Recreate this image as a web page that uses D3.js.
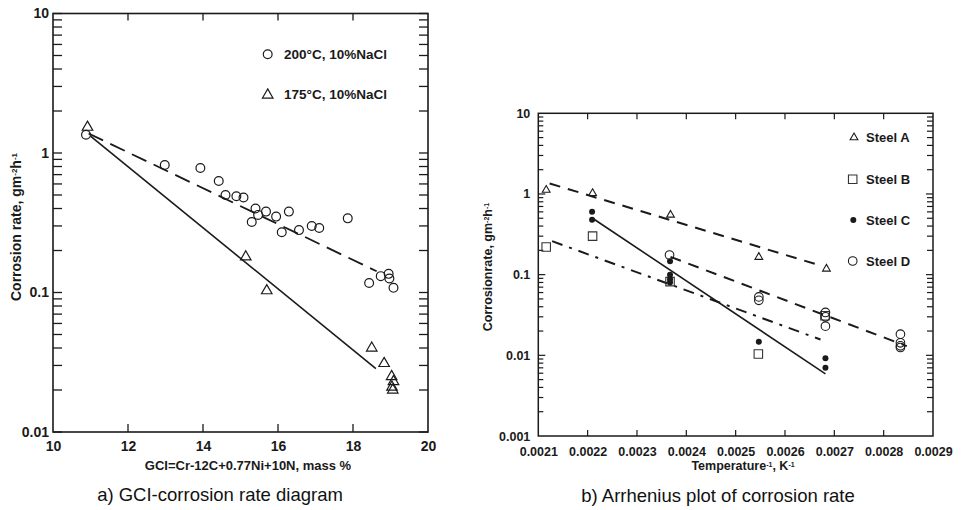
<!DOCTYPE html>
<html><head><meta charset="utf-8">
<script src="https://cdn.jsdelivr.net/npm/d3@7"></script>
<style>
body{margin:0;background:#fff;}
svg{display:block;font-family:"Liberation Sans",Arial,sans-serif;}
</style></head>
<body>
<svg id="chart" width="961" height="510"></svg>
<script>
// ---------- Left chart data (GCI vs corrosion rate) ----------
const gci200 = [10.88,12.98,13.93,14.42,14.6,14.89,15.08,15.4,15.47,15.3,15.68,15.95,16.1,16.29,16.56,16.9,17.1,17.86,18.43,18.74,18.95,18.97,19.08];
const rate200 = [1.35,0.82,0.78,0.63,0.50,0.49,0.48,0.40,0.36,0.32,0.38,0.35,0.27,0.38,0.28,0.30,0.29,0.34,0.117,0.131,0.136,0.126,0.108];
const gci175 = [10.92,15.14,15.7,18.5,18.83,19.03,19.08,19.04,19.06];
const rate175 = [1.53,0.18,0.103,0.040,0.031,0.025,0.023,0.021,0.020];
const fit200 = [[10.95,1.38],[18.63,0.142]];
const fit175 = [[11.0,1.32],[18.61,0.0285]];
const leftXTicks = [10,12,14,16,18,20];
const leftYTicks = [0.01,0.1,1,10];
const leftYLabels = ["0.01","0.1","1","10"];
const leftLegend = ["200°C, 10%NaCl","175°C, 10%NaCl"];

// ---------- Right chart data (Arrhenius) ----------
const invTA = [0.002116,0.00221,0.002368,0.002547,0.002684];
const rateA = [1.12,1.02,0.55,0.165,0.118];
const invTB = [0.002116,0.00221,0.002367,0.002546,0.002681];
const rateB = [0.22,0.30,0.082,0.0104,0.031];
const invTC = [0.002209,0.002209,0.002367,0.002367,0.002367,0.002367,0.002547,0.002682,0.002682];
const rateC = [0.60,0.48,0.147,0.100,0.088,0.080,0.0147,0.0092,0.0070];
const invTD = [0.002366,0.002547,0.002547,0.002682,0.002682,0.002682,0.002834,0.002834,0.002834,0.002834];
const rateD = [0.175,0.053,0.048,0.034,0.030,0.023,0.0183,0.0143,0.0131,0.0125];
const fitA = [[0.002123,1.35],[0.002675,0.128]];
const fitB = [[0.002128,0.26],[0.002672,0.0157]];
const fitC = [[0.00221,0.50],[0.002682,0.0059]];
const fitD = [[0.002368,0.166],[0.002847,0.013]];
const rightXTicks = [0.0021,0.0022,0.0023,0.0024,0.0025,0.0026,0.0027,0.0028,0.0029];
const rightXLabels = ["0.0021","0.0022","0.0023","0.0024","0.0025","0.0026","0.0027","0.0028","0.0029"];
const rightYTicks = [0.001,0.01,0.1,1,10];
const rightYLabels = ["0.001","0.01","0.1","1","10"];
const rightLegend = ["Steel A","Steel B","Steel C","Steel D"];

const svg = d3.select("#chart");
const INK = "#1a1a1a";

function minorTicks(domain){
  const out=[];
  const lo=Math.round(Math.log10(domain[0])), hi=Math.round(Math.log10(domain[1]));
  for(let e=lo;e<hi;e++) for(let m=2;m<=9;m++) out.push(m*Math.pow(10,e));
  return out;
}
function superText(sel, parts, supSize){
  parts.forEach(([t,s])=>{
    const ts = sel.append("tspan").text(t);
    if(s){ ts.attr("font-size",supSize).attr("baseline-shift","super"); }
  });
}
function tickLines(g, segs, w){
  g.append("g").selectAll("line").data(segs).join("line")
    .attr("x1",d=>d[0]).attr("y1",d=>d[1]).attr("x2",d=>d[2]).attr("y2",d=>d[3])
    .attr("stroke",INK).attr("stroke-width",w);
}

// ================= LEFT CHART =================
(function(){
  const L=53, R=428, T=13.5, B=432;
  const x = d3.scaleLinear().domain([10,20]).range([L,R]);
  const y = d3.scaleLog().domain([0.01,10]).range([B,T]);
  const g = svg.append("g");
  const ax = g.append("g").attr("transform",`translate(0,${B})`)
    .call(d3.axisBottom(x).tickValues(leftXTicks).tickSizeInner(0).tickSizeOuter(0).tickPadding(9).tickFormat(d3.format("d")));
  ax.select(".domain").remove();
  ax.selectAll(".tick line").remove();
  ax.selectAll("text").attr("font-size",14).attr("font-weight","bold").attr("fill",INK);
  const ay = g.append("g").attr("transform",`translate(${L},0)`)
    .call(d3.axisLeft(y).tickValues(leftYTicks).tickSizeInner(0).tickSizeOuter(0).tickPadding(4).tickFormat((d,i)=>leftYLabels[i]));
  ay.select(".domain").remove();
  ay.selectAll(".tick line").remove();
  ay.selectAll("text").attr("font-size",14).attr("font-weight","bold").attr("fill",INK);
  const segs=[];
  leftXTicks.slice(1,-1).forEach(v=>{
    segs.push([x(v),B,x(v),B-8]);
    segs.push([x(v),T,x(v),T+7]);
  });
  leftYTicks.concat(minorTicks([0.01,10])).forEach(v=>{
    segs.push([L,y(v),L+9,y(v)]);
    segs.push([R,y(v),R-9,y(v)]);
  });
  tickLines(g,segs,1.3);
  g.append("rect").attr("x",L).attr("y",T).attr("width",R-L).attr("height",B-T)
    .attr("fill","none").attr("stroke",INK).attr("stroke-width",1.6);
  const ln = d3.line().x(d=>x(d[0])).y(d=>y(d[1]));
  g.append("path").attr("d",ln(fit200)).attr("fill","none").attr("stroke",INK).attr("stroke-width",1.8).attr("stroke-dasharray","16,8");
  g.append("path").attr("d",ln(fit175)).attr("fill","none").attr("stroke",INK).attr("stroke-width",1.6);
  g.append("g").selectAll("circle").data(gci200.map((v,i)=>[v,rate200[i]])).join("circle")
    .attr("cx",d=>x(d[0])).attr("cy",d=>y(d[1])).attr("r",4.4)
    .attr("fill","none").attr("stroke",INK).attr("stroke-width",1.2);
  const tri = d3.symbol().type(d3.symbolTriangle).size(48);
  g.append("g").selectAll("path").data(gci175.map((v,i)=>[v,rate175[i]])).join("path")
    .attr("d",tri).attr("transform",d=>`translate(${x(d[0])},${y(d[1])})`)
    .attr("fill","none").attr("stroke",INK).attr("stroke-width",1.2);
  g.append("circle").attr("cx",267.7).attr("cy",54.3).attr("r",4.4).attr("fill","none").attr("stroke",INK).attr("stroke-width",1.2);
  g.append("path").attr("d",tri).attr("transform","translate(267.7,95)").attr("fill","none").attr("stroke",INK).attr("stroke-width",1.2);
  g.append("text").attr("x",284).attr("y",59).attr("font-size",13.5).attr("font-weight","bold").attr("fill",INK).text(leftLegend[0]);
  g.append("text").attr("x",284).attr("y",99).attr("font-size",13.5).attr("font-weight","bold").attr("fill",INK).text(leftLegend[1]);
  g.append("text").attr("x",248).attr("y",470).attr("text-anchor","middle").attr("font-size",13).attr("font-weight","bold").attr("fill",INK)
    .text("GCI=Cr-12C+0.77Ni+10N, mass %");
  const yl = g.append("text").attr("transform","translate(21,227) rotate(-90)").attr("text-anchor","middle")
    .attr("font-size",14).attr("font-weight","bold").attr("fill",INK);
  superText(yl,[["Corrosion rate, gm",false],["-2",true],["h",false],["-1",true]],8);
  g.append("text").attr("x",220).attr("y",501).attr("text-anchor","middle").attr("font-size",18.5).attr("fill","#111")
    .text("a) GCI-corrosion rate diagram");
})();

// ================= RIGHT CHART =================
(function(){
  const L=538.3, R=933, T=113.3, B=436;
  const x = d3.scaleLinear().domain([0.0021,0.0029]).range([L,R]);
  const y = d3.scaleLog().domain([0.001,10]).range([B,T]);
  const g = svg.append("g");
  const ax = g.append("g").attr("transform",`translate(0,${B})`)
    .call(d3.axisBottom(x).tickValues(rightXTicks).tickSizeInner(0).tickSizeOuter(0).tickPadding(11).tickFormat((d,i)=>rightXLabels[i]));
  ax.select(".domain").remove(); ax.selectAll(".tick line").remove();
  ax.selectAll("text").attr("font-size",12.5).attr("font-weight","bold").attr("fill",INK);
  const ay = g.append("g").attr("transform",`translate(${L},0)`)
    .call(d3.axisLeft(y).tickValues(rightYTicks).tickSizeInner(0).tickSizeOuter(0).tickPadding(8).tickFormat((d,i)=>rightYLabels[i]));
  ay.select(".domain").remove(); ay.selectAll(".tick line").remove();
  ay.selectAll("text").attr("font-size",12.5).attr("font-weight","bold").attr("fill",INK);
  const segs=[];
  rightXTicks.slice(1,-1).forEach(v=>{
    segs.push([x(v),B,x(v),B-6]);
    segs.push([x(v),T,x(v),T+6]);
  });
  rightYTicks.slice(1,-1).forEach(v=>{
    segs.push([L,y(v),L+7,y(v)]);
    segs.push([R,y(v),R-7,y(v)]);
  });
  minorTicks([0.001,10]).forEach(v=>{
    segs.push([L,y(v),L+5,y(v)]);
    segs.push([R,y(v),R-6,y(v)]);
  });
  tickLines(g,segs,1.2);
  g.append("rect").attr("x",L).attr("y",T).attr("width",R-L).attr("height",B-T)
    .attr("fill","none").attr("stroke",INK).attr("stroke-width",1.5);
  const ln = d3.line().x(d=>x(d[0])).y(d=>y(d[1]));
  g.append("path").attr("d",ln(fitA)).attr("fill","none").attr("stroke",INK).attr("stroke-width",2).attr("stroke-dasharray","11,8");
  g.append("path").attr("d",ln(fitD)).attr("fill","none").attr("stroke",INK).attr("stroke-width",2).attr("stroke-dasharray","11,8");
  g.append("path").attr("d",ln(fitB)).attr("fill","none").attr("stroke",INK).attr("stroke-width",2).attr("stroke-dasharray","11,7,3,7");
  g.append("path").attr("d",ln(fitC)).attr("fill","none").attr("stroke",INK).attr("stroke-width",1.6);
  const tri = d3.symbol().type(d3.symbolTriangle).size(26);
  const sq = d3.symbol().type(d3.symbolSquare).size(72);
  g.append("g").selectAll("path").data(invTA.map((v,i)=>[v,rateA[i]])).join("path")
    .attr("d",tri).attr("transform",d=>`translate(${x(d[0])},${y(d[1])})`)
    .attr("fill","none").attr("stroke",INK).attr("stroke-width",1.1);
  g.append("g").selectAll("path").data(invTB.map((v,i)=>[v,rateB[i]])).join("path")
    .attr("d",sq).attr("transform",d=>`translate(${x(d[0])},${y(d[1])})`)
    .attr("fill","none").attr("stroke","#333").attr("stroke-width",1.1);
  g.append("g").selectAll("circle").data(invTC.map((v,i)=>[v,rateC[i]])).join("circle")
    .attr("cx",d=>x(d[0])).attr("cy",d=>y(d[1])).attr("r",3).attr("fill",INK);
  g.append("g").selectAll("circle").data(invTD.map((v,i)=>[v,rateD[i]])).join("circle")
    .attr("cx",d=>x(d[0])).attr("cy",d=>y(d[1])).attr("r",4.3)
    .attr("fill","none").attr("stroke",INK).attr("stroke-width",1.1);
  g.append("path").attr("d",tri).attr("transform","translate(854,137.5)").attr("fill","none").attr("stroke",INK).attr("stroke-width",1.1);
  g.append("path").attr("d",sq).attr("transform","translate(852.7,179.3)").attr("fill","none").attr("stroke","#333").attr("stroke-width",1.1);
  g.append("circle").attr("cx",853.3).attr("cy",220).attr("r",3).attr("fill",INK);
  g.append("circle").attr("cx",852.7).attr("cy",261).attr("r",4.3).attr("fill","none").attr("stroke",INK).attr("stroke-width",1.1);
  [137.5,179.3,220,261].forEach((cy,i)=>{
    g.append("text").attr("x",866).attr("y",cy+4.5).attr("font-size",13).attr("font-weight","bold").attr("fill",INK).text(rightLegend[i]);
  });
  const xl = g.append("text").attr("x",743).attr("y",470).attr("text-anchor","middle").attr("font-size",12.5).attr("font-weight","bold").attr("fill",INK);
  superText(xl,[["Temperature",false],["-1",true],[", K",false],["-1",true]],7);
  const yl = g.append("text").attr("transform","translate(492,267) rotate(-90)").attr("text-anchor","middle")
    .attr("font-size",12.5).attr("font-weight","bold").attr("fill",INK);
  superText(yl,[["Corrosionrate, gm",false],["-2",true],["h",false],["-1",true]],7);
  g.append("text").attr("x",718).attr("y",502).attr("text-anchor","middle").attr("font-size",18.5).attr("fill","#111")
    .text("b) Arrhenius plot of corrosion rate");
})();
</script>
</body></html>
